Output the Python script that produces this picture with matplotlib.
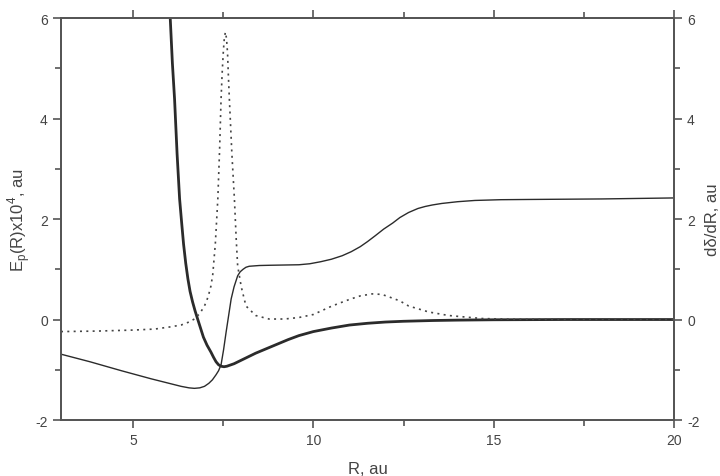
import matplotlib.pyplot as plt

plt.rcParams['font.family'] = ['Liberation Sans', 'DejaVu Sans']
plt.rcParams['axes.unicode_minus'] = False

# Thick solid curve: potential Ep(R) x 1e4
r_pot = [6.03, 6.09, 6.15, 6.22, 6.29, 6.35, 6.40, 6.46, 6.52, 6.58, 6.65, 6.72,
         6.79, 6.87, 6.95, 7.05, 7.16, 7.23, 7.30, 7.37, 7.44, 7.52, 7.60, 7.80,
         8.00, 8.20, 8.40, 8.70, 9.00, 9.30, 9.60, 10.0, 10.5, 11.0, 11.5, 12.0,
         12.5, 13.3, 14.0, 15.0, 17.0, 20.0]
e_pot = [6.0, 5.1, 4.39, 3.3, 2.40, 1.9, 1.5, 1.12, 0.81, 0.56, 0.35, 0.17,
         0.01, -0.17, -0.35, -0.51, -0.65, -0.75, -0.84, -0.90, -0.93, -0.94, -0.93, -0.88,
         -0.81, -0.74, -0.67, -0.58, -0.49, -0.40, -0.32, -0.24, -0.17, -0.11, -0.075, -0.05,
         -0.035, -0.02, -0.012, -0.005, 0.0, 0.0]

# Thin solid curve
r_thin = [3.0, 3.8, 4.68, 5.5, 6.33, 6.55, 6.70, 6.85, 6.98, 7.10, 7.20, 7.30, 7.37,
          7.44, 7.51, 7.58, 7.65, 7.72, 7.80, 7.90, 7.97, 8.05, 8.13, 8.22, 8.50,
          8.80, 9.20, 9.60, 9.90, 10.2, 10.5, 10.8, 11.05, 11.3, 11.5, 11.72, 11.95,
          12.2, 12.4, 12.64, 12.9, 13.1, 13.3, 13.56, 14.0, 14.48, 15.2, 16.04, 18.0, 20.0]
v_thin = [-0.69, -0.84, -1.02, -1.18, -1.33, -1.36, -1.37, -1.36, -1.33, -1.27, -1.20,
          -1.10, -1.02, -0.90, -0.60, -0.25, 0.08, 0.41, 0.65, 0.87, 0.95, 1.00, 1.04,
          1.06, 1.075, 1.08, 1.085, 1.09, 1.11, 1.15, 1.20, 1.27, 1.35, 1.45, 1.55,
          1.67, 1.80, 1.92, 2.03, 2.13, 2.21, 2.25, 2.28, 2.31, 2.345, 2.37, 2.385,
          2.39, 2.40, 2.42]

# Dotted curve: d delta / dR
r_dd = [3.0, 4.0, 5.0, 5.6, 6.0, 6.33, 6.55, 6.70, 6.85, 6.98, 7.08, 7.16, 7.21,
        7.28, 7.35, 7.40, 7.44, 7.47, 7.50, 7.53, 7.56, 7.59, 7.62, 7.64, 7.67,
        7.74, 7.81, 7.86, 7.90, 8.00, 8.13, 8.40, 8.77, 9.20, 9.60, 10.0, 10.52,
        11.0, 11.3, 11.63, 11.9, 12.1, 12.4, 12.64, 13.2, 13.75, 14.67, 15.5, 20.0]
dd = [-0.24, -0.23, -0.21, -0.19, -0.15, -0.11, -0.05, 0.01, 0.12, 0.27, 0.45, 0.67,
      0.90, 1.50, 2.40, 3.40, 4.39, 4.9, 5.30, 5.6, 5.72, 5.6, 5.30, 4.9, 4.39,
      3.30, 2.40, 1.6, 1.07, 0.65, 0.27, 0.08, 0.01, 0.01, 0.04, 0.10, 0.27,
      0.40, 0.47, 0.51, 0.50, 0.45, 0.37, 0.27, 0.15, 0.08, 0.02, 0.005, 0.0]

fig = plt.figure(figsize=(7.2, 4.77), dpi=100)
ax = fig.add_axes([0.0847, 0.1174, 0.8513, 0.8426])
ax2 = ax.twinx()

line_c = '#2b2b2b'
axis_c = '#555555'

ax.plot(r_pot, e_pot, color=line_c, lw=2.0, solid_joinstyle='round')
ax.plot(r_thin, v_thin, color=line_c, lw=1.0, solid_joinstyle='round')
ax2.plot(r_dd, dd, color='#444444', lw=1.2, linestyle=(0, (1.2, 2.6)))

for a in (ax, ax2):
    a.set_xlim(3, 20)
    a.set_ylim(-2, 6)
    a.set_yticks([-2, 0, 2, 4, 6])
    a.set_yticks([-1, 1, 3, 5], minor=True)
    for s in a.spines.values():
        s.set_color(axis_c)
        s.set_linewidth(1.3)

ax.set_xticks([5, 10, 15, 20])
ax.set_xticks([7.5, 12.5, 17.5], minor=True)
for a in (ax, ax2):
    a.tick_params(which='both', direction='out', color=axis_c, width=1.2,
                  labelcolor='#444444', labelsize=10)
    a.tick_params(which='major', length=6)
    a.tick_params(which='minor', length=4)
ax.tick_params(which='both', top=True)

ax.set_xlabel('R, au', fontsize=12, color='#444444', labelpad=10)
ax.set_ylabel('E$_\\mathregular{p}$(R)x10$^\\mathregular{4}$, au', fontsize=12,
              color='#444444', labelpad=2)
ax2.set_ylabel('dδ/dR, au', fontsize=12, color='#444444', labelpad=4)

fig.savefig('out.png', dpi=100)
